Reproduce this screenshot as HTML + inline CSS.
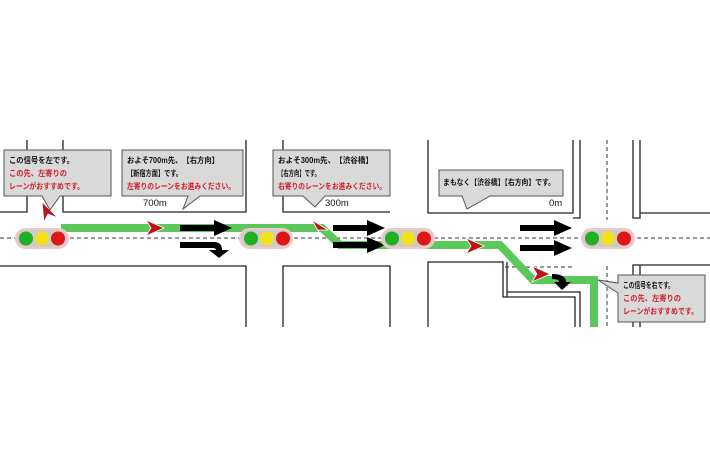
<!DOCTYPE html>
<html><head><meta charset="utf-8"><style>
html,body{margin:0;padding:0;background:#fff;}
svg{display:block;font-family:"Liberation Sans","Noto Sans CJK JP",sans-serif;}
</style></head><body>
<svg width="710" height="474" viewBox="0 0 710 474" xmlns="http://www.w3.org/2000/svg">
<g stroke="#222" stroke-width="1.3" fill="none">
<path d="M0 212 H27 V140"/>
<path d="M63 140 V212 H246 V140"/>
<path d="M283 140 V212 H390"/>
<path d="M428 140 V213 H573 V140 M580 140 V218 H573"/>
<path d="M633 140 V218 H640 V213 H710 M640 213 V140"/>
<path d="M0 266 H246 V327"/>
<path d="M283 327 V266 H390 V327"/>
<path d="M428 327 V262 H503 V297 H507 V262 M507 292 H580 V327 M575 327 V297 H507"/>
<path d="M633 327 V265 H710 M640 265 V327"/>
</g>
<g stroke="#333" stroke-width="1" stroke-dasharray="4,3" fill="none">
<path d="M0 238 H710"/>
<path d="M505 267 H575"/>
<path d="M607 140 V220 M607 266 V327"/>
</g>
<path d="M61 228 H322 L340 245 H500 L533 280 H594 V327" stroke="#5cc85c" stroke-width="8" fill="none"/>
<g fill="#000">
<path d="M180 225 H214 V220 L232 228 L214 236 V231 H180Z"/>
<path d="M333 225 H367 V220 L385 228 L367 236 V231 H333Z"/>
<path d="M333 242 H367 V237 L385 245 L367 253 V248 H333Z"/>
<path d="M520 225 H554 V220 L572 228 L554 236 V231 H520Z"/>
<path d="M520 245 H554 V240 L572 248 L554 256 V251 H520Z"/>
<path d="M180 242 H214 Q222 242 222 250 H229 L219 258 L209 250 H216 Q216 248 212 248 H180Z"/>
<path d="M552 274 Q566 274 566 282 H571 L562 290 L554 282 H559 Q559 279 552 279Z"/>
</g>
<g fill="#c0101a" stroke="#fff" stroke-width="0.8">
<path d="M42 202 L58 218 L48 214 L44 222Z"/>
<path d="M146 220 L164 228 L146 236 L151 228Z"/>
<path d="M312 220 L328 230 L318 230 L322 238Z"/>
<path d="M466 238 L484 246 L466 254 L471 246Z"/>
<path d="M532 266 L550 274 L532 282 L537 274Z"/>
</g>
<g>
<rect x="16" y="229" width="52" height="19" rx="9.5" fill="#ccc" stroke="#f6c6c6" stroke-width="2"/>
<circle cx="26" cy="238.5" r="7" fill="#21b021"/><circle cx="42" cy="238.5" r="7" fill="#f3e21a"/><circle cx="58" cy="238.5" r="7" fill="#e01515"/>
<rect x="240" y="229" width="52" height="19" rx="9.5" fill="#ccc" stroke="#f6c6c6" stroke-width="2"/>
<circle cx="251" cy="238.5" r="7" fill="#21b021"/><circle cx="267" cy="238.5" r="7" fill="#f3e21a"/><circle cx="283" cy="238.5" r="7" fill="#e01515"/>
<rect x="382" y="229" width="52" height="19" rx="9.5" fill="#ccc" stroke="#f6c6c6" stroke-width="2"/>
<circle cx="392" cy="238.5" r="7" fill="#21b021"/><circle cx="408" cy="238.5" r="7" fill="#f3e21a"/><circle cx="424" cy="238.5" r="7" fill="#e01515"/>
<rect x="582" y="229" width="52" height="19" rx="9.5" fill="#ccc" stroke="#f6c6c6" stroke-width="2"/>
<circle cx="592" cy="238.5" r="7" fill="#21b021"/><circle cx="608" cy="238.5" r="7" fill="#f3e21a"/><circle cx="624" cy="238.5" r="7" fill="#e01515"/>
</g>
<g fill="#d9d9d9" stroke="#555" stroke-width="1">
<path d="M4 150 H111 V196 H60 L50 210 L42 196 H4Z"/>
<path d="M122 150 H243 V196 H200 L183 209 L188 196 H122Z"/>
<path d="M273 150 H390 V196 H325 L315 207 L303 196 H273Z"/>
<path d="M439 170 H563 V196 H490 L467 209 L462 196 H439Z"/>
<path d="M618 275 H705 V322 H618 V293 L598 280 L618 283Z"/>
</g>
<g font-size="8" fill="#111" font-weight="bold" lengthAdjust="spacingAndGlyphs">
<text x="9" y="163" textLength="65" lengthAdjust="spacingAndGlyphs">この信号を左です。</text>
<text x="9" y="176" fill="#d0202a" textLength="58" lengthAdjust="spacingAndGlyphs">この先、左寄りの</text>
<text x="9" y="189" fill="#d0202a" textLength="75" lengthAdjust="spacingAndGlyphs">レーンがおすすめです。</text>
<text x="127" y="163" textLength="92" lengthAdjust="spacingAndGlyphs">およそ700m先、【右方向】</text>
<text x="127" y="176" textLength="55" lengthAdjust="spacingAndGlyphs">【新宿方面】です。</text>
<text x="127" y="189" fill="#d0202a" textLength="108" lengthAdjust="spacingAndGlyphs">左寄りのレーンをお進みください。</text>
<text x="278" y="163" textLength="95" lengthAdjust="spacingAndGlyphs">およそ300m先、【渋谷橋】</text>
<text x="278" y="176" textLength="42" lengthAdjust="spacingAndGlyphs">【右方向】です。</text>
<text x="278" y="189" fill="#d0202a" textLength="108" lengthAdjust="spacingAndGlyphs">右寄りのレーンをお進みください。</text>
<text x="443" y="185" textLength="112" lengthAdjust="spacingAndGlyphs">まもなく【渋谷橋】【右方向】です。</text>
<text x="623" y="288" textLength="51" lengthAdjust="spacingAndGlyphs">この信号を右です。</text>
<text x="623" y="301" fill="#d0202a" textLength="58" lengthAdjust="spacingAndGlyphs">この先、左寄りの</text>
<text x="623" y="314" fill="#d0202a" textLength="75" lengthAdjust="spacingAndGlyphs">レーンがおすすめです。</text>
<text x="143" y="206" font-size="9.5" font-weight="normal">700m</text>
<text x="325" y="206" font-size="9.5" font-weight="normal">300m</text>
<text x="549" y="206" font-size="9.5" font-weight="normal">0m</text>
</g>
</svg>
</body></html>
